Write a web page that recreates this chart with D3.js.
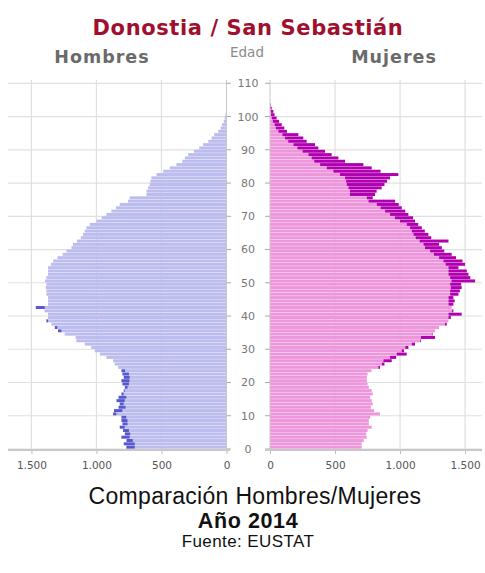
<!DOCTYPE html>
<html>
<head>
<meta charset="utf-8">
<script src="https://cdn.jsdelivr.net/npm/d3@7"></script>
<style>
  html, body { margin: 0; padding: 0; background: #fff; }
  svg { display: block; }
</style>
</head>
<body>
<svg id="chart" width="485" height="573"></svg>
<script>
// Población de Donostia / San Sebastián por edad simple y sexo, 2014
const edades = d3.range(0, 104);
const hombres = [
  770, 790, 769, 808, 782, 795, 821, 800, 808, 808,
  872, 865, 830, 821, 846, 830, 808, 790, 782, 800,
  808, 790, 800, 808, 833, 860, 872, 923, 974, 1013,
  1040, 1090, 1154, 1160, 1244, 1295, 1320, 1346, 1385, 1372,
  1372, 1400, 1466, 1372, 1372, 1372, 1385, 1385, 1390, 1385,
  1395, 1385, 1372, 1372, 1372, 1350, 1333, 1300, 1260, 1231,
  1192, 1180, 1150, 1120, 1103, 1090, 1077, 1051, 1000, 960,
  923, 885, 850, 821, 757, 744, 615, 615, 603, 590,
  585, 577, 538, 487, 436, 385, 340, 320, 295, 250,
  210, 180, 140, 115, 95, 64, 45, 35, 21, 14,
  8, 4, 2, 1
];
const mujeres = [
  705, 705, 720, 744, 740, 750, 782, 760, 760, 770,
  846, 800, 775, 790, 782, 770, 790, 782, 760, 750,
  745, 744, 750, 780, 846, 880, 936, 970, 1051, 1030,
  1064, 1115, 1160, 1269, 1250, 1269, 1300, 1359, 1372, 1390,
  1474, 1410, 1397, 1410, 1420, 1410, 1449, 1460, 1474, 1470,
  1577, 1540, 1526, 1513, 1449, 1500, 1480, 1430, 1397, 1340,
  1321, 1300, 1372, 1240, 1218, 1190, 1167, 1140, 1115, 1100,
  1064, 1040, 1013, 990, 962, 790, 808, 820, 859, 880,
  900, 923, 987, 850, 782, 718, 577, 526, 474, 423,
  372, 346, 282, 256, 218, 130, 110, 90, 70, 51,
  35, 26, 13, 5
];
const edadTicks = d3.range(0, 111, 10);
const valorTicks = [0, 500, 1000, 1500];

const svg = d3.select("#chart");
const fmt = v => d3.format(",")(v).replace(/,/g, ".");

// Escalas
const y = d3.scaleLinear().domain([0, 110]).range([449, 83.3]);
const xH = d3.scaleLinear().domain([0, 1680]).range([226.5, 8]);
const xM = d3.scaleLinear().domain([0, 1630]).range([270, 482]);
const barH = y(0) - y(1);

const colors = {
  hLight: "#bcbcee", hDark: "#5757cf",
  mLight: "#ee96dc", mDark: "#b000b0",
  grid: "#e0e0e0", axis: "#c8c8c8"
};

// Rejilla
function grid(x, x0, x1) {
  const g = svg.append("g");
  g.selectAll("line.h").data(edadTicks).join("line")
    .attr("x1", x0).attr("x2", x1)
    .attr("y1", d => y(d)).attr("y2", d => y(d))
    .attr("stroke", colors.grid).attr("stroke-width", 1.2);
  g.selectAll("line.v").data(valorTicks.filter(d => d > 0)).join("line")
    .attr("x1", d => x(d)).attr("x2", d => x(d))
    .attr("y1", 80).attr("y2", y(0))
    .attr("stroke", colors.grid).attr("stroke-width", 1.2);
}
grid(xH, 8, 226.5);
grid(xM, 270, 482);

const data = edades.map((e, i) => ({ edad: e, h: hombres[i], m: mujeres[i] }));
const gap = 0.35;

// Barras de hombres: parte común + exceso
const gH = svg.append("g");
gH.selectAll("rect.base").data(data).join("rect")
  .attr("x", d => xH(Math.min(d.h, d.m)))
  .attr("width", d => xH(0) - xH(Math.min(d.h, d.m)))
  .attr("y", d => y(d.edad + 1))
  .attr("height", barH - gap)
  .attr("fill", colors.hLight);
gH.selectAll("rect.exc").data(data.filter(d => d.h > d.m)).join("rect")
  .attr("x", d => xH(d.h))
  .attr("width", d => xH(d.m) - xH(d.h))
  .attr("y", d => y(d.edad + 1))
  .attr("height", barH - gap)
  .attr("fill", colors.hDark);

// Barras de mujeres: parte común + exceso
const gM = svg.append("g");
gM.selectAll("rect.base").data(data).join("rect")
  .attr("x", xM(0))
  .attr("width", d => xM(Math.min(d.h, d.m)) - xM(0))
  .attr("y", d => y(d.edad + 1))
  .attr("height", barH - gap)
  .attr("fill", colors.mLight);
gM.selectAll("rect.exc").data(data.filter(d => d.m > d.h)).join("rect")
  .attr("x", d => xM(d.h))
  .attr("width", d => xM(d.m) - xM(d.h))
  .attr("y", d => y(d.edad + 1))
  .attr("height", barH - gap)
  .attr("fill", colors.mDark);

// Ejes verticales de edad
[[226.5, 231], [270, 265]].forEach(([x0, x1]) => {
  svg.append("line").attr("x1", x0).attr("x2", x0).attr("y1", 80).attr("y2", y(0))
    .attr("stroke", colors.axis).attr("stroke-width", 1);
  svg.append("g").selectAll("line").data(edadTicks).join("line")
    .attr("x1", x0).attr("x2", x1)
    .attr("y1", d => y(d)).attr("y2", d => y(d))
    .attr("stroke", "#aaa");
});

// Etiquetas de edad
svg.append("g").selectAll("text").data(edadTicks).join("text")
  .attr("x", 248).attr("y", d => y(d))
  .attr("dy", "0.36em")
  .attr("text-anchor", "middle")
  .attr("font-family", "DejaVu Sans, sans-serif")
  .attr("font-size", 11)
  .attr("fill", "#777")
  .text(d => d);

// Ejes horizontales de valores
function xAxis(x, x0, x1) {
  svg.append("line").attr("x1", x0).attr("x2", x1)
    .attr("y1", 450).attr("y2", 450)
    .attr("stroke", colors.axis).attr("stroke-width", 2);
  const ax = d3.axisBottom(x).tickValues(valorTicks).tickFormat(fmt).tickSize(3).tickPadding(8);
  const g = svg.append("g").attr("transform", "translate(0,451)").call(ax);
  g.select(".domain").remove();
  g.selectAll(".tick line").attr("stroke", "#bbb");
  g.selectAll(".tick text")
    .attr("font-family", "DejaVu Sans, sans-serif")
    .attr("font-size", 10.5)
    .attr("fill", "#555");
}
xAxis(xH, 8, 230);
xAxis(xM, 265, 482);

// Cabecera
svg.append("text").attr("x", 248).attr("y", 35)
  .attr("text-anchor", "middle")
  .attr("font-family", "DejaVu Sans, sans-serif")
  .attr("font-weight", "bold").attr("font-size", 21)
  .attr("letter-spacing", 0.6)
  .attr("fill", "#a0102e")
  .text("Donostia / San Sebastián");
svg.append("text").attr("x", 102).attr("y", 63)
  .attr("text-anchor", "middle")
  .attr("font-family", "DejaVu Sans, sans-serif")
  .attr("font-weight", "bold").attr("font-size", 17.5)
  .attr("letter-spacing", 1)
  .attr("fill", "#6a6a6a")
  .text("Hombres");
svg.append("text").attr("x", 394).attr("y", 63)
  .attr("text-anchor", "middle")
  .attr("font-family", "DejaVu Sans, sans-serif")
  .attr("font-weight", "bold").attr("font-size", 17.5)
  .attr("letter-spacing", 1)
  .attr("fill", "#6a6a6a")
  .text("Mujeres");
svg.append("text").attr("x", 247).attr("y", 57)
  .attr("text-anchor", "middle")
  .attr("font-family", "DejaVu Sans, sans-serif")
  .attr("font-size", 13.5)
  .attr("fill", "#8a8a8a")
  .text("Edad");

// Pie
svg.append("text").attr("x", 255).attr("y", 504)
  .attr("text-anchor", "middle")
  .attr("font-family", "Liberation Sans, Arial, sans-serif")
  .attr("font-size", 23)
  .attr("letter-spacing", 0.3)
  .attr("fill", "#111")
  .text("Comparación Hombres/Mujeres");
svg.append("text").attr("x", 248).attr("y", 528)
  .attr("text-anchor", "middle")
  .attr("font-family", "Liberation Sans, Arial, sans-serif")
  .attr("font-weight", "bold").attr("font-size", 21.5)
  .attr("letter-spacing", 0.6)
  .attr("fill", "#111")
  .text("Año 2014");
svg.append("text").attr("x", 248).attr("y", 547)
  .attr("text-anchor", "middle")
  .attr("font-family", "Liberation Sans, Arial, sans-serif")
  .attr("font-size", 17)
  .attr("letter-spacing", 0.4)
  .attr("fill", "#111")
  .text("Fuente: EUSTAT");
</script>
</body>
</html>
